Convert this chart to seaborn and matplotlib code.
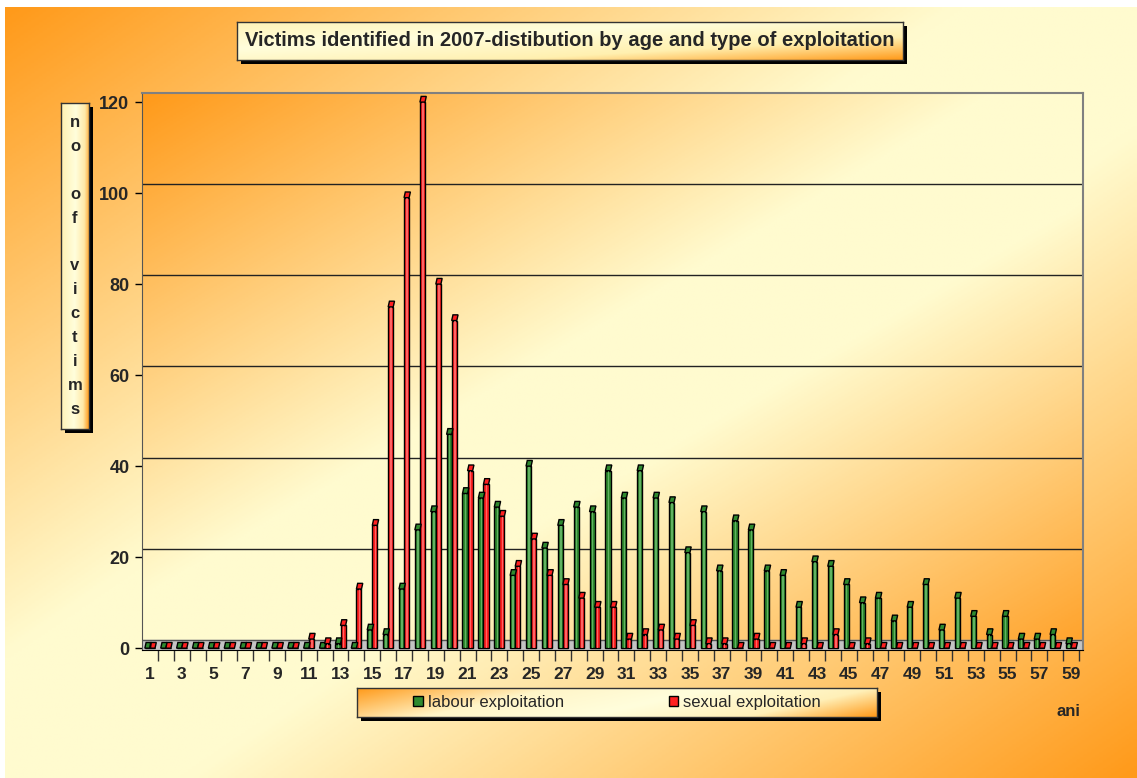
import numpy as np
import pandas as pd
import matplotlib
matplotlib.use("Agg")
import matplotlib.pyplot as plt
import seaborn as sns
from matplotlib.patches import Rectangle, Polygon
from matplotlib.colors import LinearSegmentedColormap, to_hex
from matplotlib import font_manager as fm

# ---------------- data ----------------
ages = list(range(1, 60))
labour = [0, 0, 0, 0, 0, 0, 0, 0, 0, 0,
          0, 0, 1, 0, 4, 3, 13, 26, 30, 47,
          34, 33, 31, 16, 40, 22, 27, 31, 30, 39,
          33, 39, 33, 32, 21, 30, 17, 28, 26, 17,
          16, 9, 19, 18, 14, 10, 11, 6, 9, 14,
          4, 11, 7, 3, 7, 2, 2, 3, 1]
sexual = [0, 0, 0, 0, 0, 0, 0, 0, 0, 0,
          2, 1, 5, 13, 27, 75, 99, 120, 80, 72,
          39, 36, 29, 18, 24, 16, 14, 11, 9, 9,
          2, 3, 4, 2, 5, 1, 1, 0, 2, 0,
          0, 1, 0, 3, 0, 1, 0, 0, 0, 0,
          0, 0, 0, 0, 0, 0, 0, 0, 0]
series_names = ["labour exploitation", "sexual exploitation"]
y_ticks = [0, 20, 40, 60, 80, 100, 120]
title = "Victims identified in 2007-distibution by age and type of exploitation"
ylabel_letters = ["n", "o", "", "o", "f", "", "v", "i", "c", "t", "i", "m", "s"]
xlabel = "ani"

df = pd.DataFrame({
    "age": ages * 2,
    "type": [series_names[0]] * len(ages) + [series_names[1]] * len(ages),
    "value": labour + sexual,
})

# ---------------- style ----------------
sns.set_style("ticks")
def has_font(name):
    try:
        fm.findfont(fm.FontProperties(family=name), fallback_to_default=False)
        return True
    except Exception:
        return False

base_fam = ["Liberation Sans", "DejaVu Sans"]
narrow_fam = (["Liberation Sans Narrow"] if has_font("Liberation Sans Narrow") else []) + base_fam
plt.rcParams["font.family"] = base_fam

W, H = 1137, 778
fig = plt.figure(figsize=(W / 100, H / 100), dpi=100)
fig.patch.set_facecolor("white")

ORANGE = "#FF9A1A"
PALE = "#FFFBCF"

def px_rect(x0, y0, x1, y1):
    return [x0 / W, 1 - y1 / H, (x1 - x0) / W, (y1 - y0) / H]

def diag_gradient(n=300, m=300, stops=None, dir_=(1.0, 1.0)):
    u = np.linspace(0, 1, m)[None, :]
    v = np.linspace(0, 1, n)[:, None]
    t = (dir_[0] * u + dir_[1] * v) / (dir_[0] + dir_[1])
    cmap = LinearSegmentedColormap.from_list("g", stops)
    return cmap(t)

# page background
bg = fig.add_axes(px_rect(5, 7, W, H))
bg.imshow(diag_gradient(stops=[(0, ORANGE), (0.42, PALE), (0.58, PALE), (1, ORANGE)]),
          aspect="auto", extent=[0, 1, 1, 0])
bg.set_axis_off()
bg.set_zorder(-10)

def shadow(x0, y0, x1, y1, off=4):
    fig.add_artist(Rectangle(((x0 + off) / W, 1 - (y1 + off) / H), (x1 - x0) / W, (y1 - y0) / H,
                             transform=fig.transFigure, facecolor="black", edgecolor="none", zorder=1))

def gradient_box(x0, y0, x1, y1, stops, dir_=(1.0, 1.0)):
    shadow(x0, y0, x1, y1)
    bx = fig.add_axes(px_rect(x0, y0, x1, y1))
    bx.imshow(diag_gradient(stops=stops, dir_=dir_), aspect="auto", extent=[0, 1, 1, 0])
    bx.set_xlim(0, 1); bx.set_ylim(1, 0)
    bx.set_xticks([]); bx.set_yticks([])
    for s in bx.spines.values():
        s.set_color("#333333"); s.set_linewidth(1)
    bx.set_zorder(2)
    return bx

# ---------------- main plot ----------------
ax = fig.add_axes(px_rect(142, 93, 1083, 650))
ax.set_zorder(1)
ax.imshow(diag_gradient(stops=[(0, ORANGE), (0.45, PALE), (0.6, PALE), (1, "#FFA22A")]),
          aspect="auto", extent=[0, 1, 0, 1], transform=ax.transAxes, zorder=0)

GREEN = "#2F8A2F"
RED = "#FF2020"
LIGHT = {GREEN.lower(): "#62B262", RED.lower(): "#FF6464"}
sns.barplot(data=df, x="age", y="value", hue="type", hue_order=series_names,
            palette=[GREEN, RED], width=0.64, edgecolor="black", linewidth=1.0,
            saturation=1, ax=ax, zorder=3)

handles, labels = ax.get_legend_handles_labels()
if ax.get_legend() is not None:
    ax.get_legend().remove()

ax.set_xlim(-0.5, 58.75)
ax.set_ylim(-0.4, 122)
ax.set_aspect("auto")

# floor
DEPTH = 1.9
ax.axhspan(-0.4, DEPTH, color="#C4C4C4", zorder=1)
ax.axhline(DEPTH, color="#555555", lw=1, zorder=1.5)
# back-wall gridlines
for v in y_ticks[1:-1]:
    ax.axhline(v + DEPTH, color="#222222", lw=1, zorder=1.5)

# 3D look: light highlight stripe and cap on top of each bar
bars = [p for p in ax.patches if isinstance(p, Rectangle) and p.get_width() < 1]
for p in bars:
    x, w, h = p.get_x(), p.get_width(), p.get_height()
    fc = to_hex(p.get_facecolor()).lower()
    light = LIGHT.get(fc, "#FFFFFF")
    if h > 0:
        ax.add_patch(Rectangle((x + w * 0.45, 0), w * 0.3, h, facecolor=light,
                               edgecolor="none", zorder=3.5))
    dx = w * 0.25
    cap = Polygon([(x, h), (x + w, h), (x + w + dx, h + 1.25), (x + dx, h + 1.25)],
                  closed=True, facecolor=p.get_facecolor(), edgecolor="black", lw=1, zorder=4)
    ax.add_patch(cap)

# axes styling
ax.set_xlabel("")
ax.set_ylabel("")
ax.set_yticks(y_ticks)
ax.set_yticklabels([str(v) for v in y_ticks], fontsize=13, fontweight="bold", family=narrow_fam)
ax.tick_params(axis="y", length=5, width=1, pad=4, color="black")
ax.set_xticks(range(len(ages)))
ax.set_xticklabels([str(a) if a % 2 == 1 else "" for a in ages],
                   fontsize=12.5, fontweight="bold", family=narrow_fam)
ax.tick_params(axis="x", which="major", length=0, pad=12)
ax.set_xticks(np.arange(0.5, len(ages) - 0.5 + 1e-9, 1.0), minor=True)
ax.tick_params(axis="x", which="minor", length=8, width=1, color="#333333")
for side in ["top", "right"]:
    ax.spines[side].set_visible(True)
    ax.spines[side].set_color("#808080")
    ax.spines[side].set_linewidth(1.5)
ax.spines["left"].set_color("#555555")
ax.spines["bottom"].set_color("black")

# ---------------- title box ----------------
tb = gradient_box(237, 22, 903, 60,
                  stops=[(0, "#FFF3B8"), (0.35, "#FFFEDC"), (0.7, "#FFF0B0"), (1, "#FF9A1A")])
tb.text(0.5, 0.5, title, ha="center", va="center", fontsize=14.5, fontweight="bold",
        family=narrow_fam, transform=tb.transAxes)

# ---------------- y-label box ----------------
yb = gradient_box(61, 103, 89, 429,
                  stops=[(0, "#FFF0B0"), (0.5, "#FFFEDC"), (0.8, "#FFE9A8"), (1, "#FF9A1A")],
                  dir_=(1.0, 0.08))
yb.text(0.5, 0.5, "\n".join(ylabel_letters), ha="center", va="center", fontsize=12,
        fontweight="bold", linespacing=1.74, transform=yb.transAxes)

# ---------------- legend box ----------------
lb = gradient_box(357, 688, 877, 717,
                  stops=[(0, "#FF9A1A"), (0.3, "#FFF5C8"), (0.55, "#FFFEDC"), (0.8, "#FFF0B8"), (1, "#FF9A1A")],
                  dir_=(1.0, 0.25))
leg = lb.legend(handles, labels, loc="center", ncol=2, frameon=False, fontsize=12,
                handlelength=0.55, handleheight=0.55, handletextpad=0.3, columnspacing=6.3,
                borderaxespad=0)
for hnd in leg.legend_handles:
    hnd.set_edgecolor("black")
    hnd.set_linewidth(1)

# ---------------- axis title ----------------
fig.text(1068 / W, 1 - 712 / H, xlabel, ha="center", va="center", fontsize=12, fontweight="bold")

fig.savefig("out.png", dpi=100, facecolor="white")
